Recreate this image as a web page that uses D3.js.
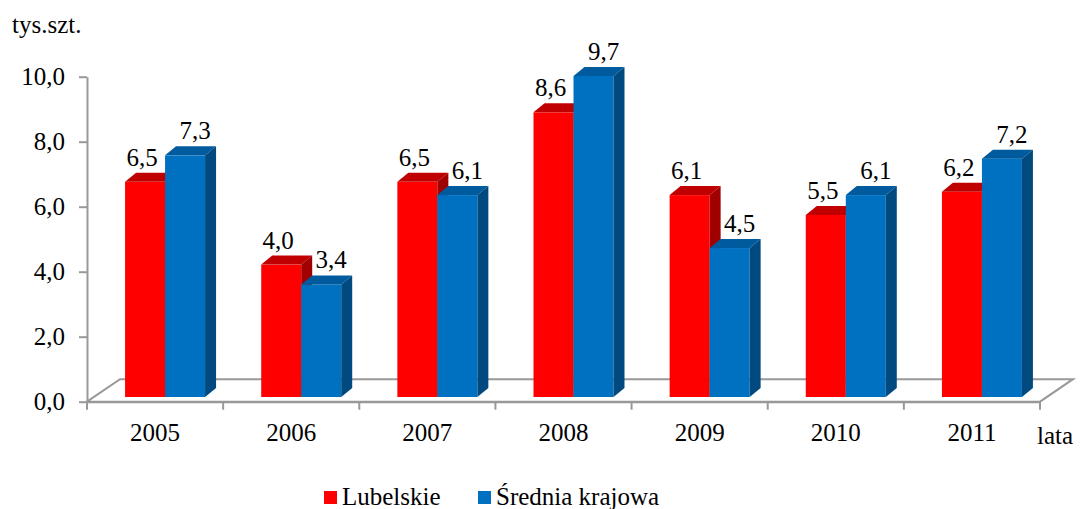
<!DOCTYPE html>
<html lang="pl">
<head>
  <meta charset="UTF-8">
  <title>Lubelskie - srednia krajowa</title>
  <script src="https://cdn.jsdelivr.net/npm/d3@7"></script>
  <style>
    body { margin: 0; background: #fff; font-family: 'Liberation Serif', serif; }
    #warm { position: absolute; left: -200px; top: 0; font-family: 'Liberation Serif'; font-size: 25px; }
  </style>
</head>
<body>
  <svg width="1080" height="509"></svg>
  <span id="warm">&nbsp;</span>
  <script>
    var years = ["2005", "2006", "2007", "2008", "2009", "2010", "2011"];
    var lubelskie = [6.5, 4.0, 6.5, 8.6, 6.1, 5.5, 6.2];
    var srednia = [7.3, 3.4, 6.1, 9.7, 4.5, 6.1, 7.2];
    var yTicks = [0, 2, 4, 6, 8, 10];

    var svg = d3.select("svg");
    var TXT = "font-family: 'Liberation Serif' !important; font-size: 25px !important; fill: #000;";
    var fmt = function (v) { return d3.format(".1f")(v).replace(".", ","); };

    var x = d3.scaleBand().domain(years).range([87, 1040]);
    var y = d3.scaleLinear().domain([0, 10]).range([401.7, 76.7]);
    // bars sit a bit deeper in the floor, so they have their own scale
    var yBar = d3.scaleLinear().domain([0, 10]).range([397, 66]);

    var floorDx = 33, floorDy = -22.5;
    var barW = 40, dX = 11, dY = -9, shift = 10;

    // floor
    var x0 = x.range()[0], x1 = x.range()[1], yf = y(0);
    svg.append("path")
      .attr("d", "M" + x0 + "," + yf + "L" + (x0 + floorDx) + "," + (yf + floorDy) +
        "L" + (x1 + floorDx) + "," + (yf + floorDy) + "L" + x1 + "," + yf + "Z")
      .attr("fill", "none")
      .attr("stroke", "#999")
      .attr("stroke-width", 2);

    // y axis
    var yAxis = svg.append("g")
      .attr("transform", "translate(" + x0 + ",0)")
      .call(d3.axisLeft(y).tickValues(yTicks).tickFormat(fmt).tickSize(8).tickSizeOuter(0))
      .attr("font-family", null);
    yAxis.select(".domain").attr("stroke", "#999").attr("stroke-width", 2);
    yAxis.selectAll(".tick line").attr("stroke", "#999").attr("stroke-width", 2);
    yAxis.selectAll(".tick text").attr("x", -22).attr("style", TXT);

    // x axis
    var xAxis = svg.append("g")
      .attr("transform", "translate(0," + yf + ")")
      .call(d3.axisBottom(x).tickSize(0).tickSizeOuter(0))
      .attr("font-family", null);
    xAxis.select(".domain").attr("stroke", "#999").attr("stroke-width", 2);
    xAxis.selectAll(".tick text").attr("y", 22).attr("style", TXT);
    var bounds = years.map(function (d) { return x(d); }).concat([x1]);
    svg.selectAll(".xtick")
      .data(bounds)
      .enter()
      .append("line")
      .attr("x1", function (d) { return d; })
      .attr("x2", function (d) { return d; })
      .attr("y1", yf)
      .attr("y2", yf + 8)
      .attr("stroke", "#999")
      .attr("stroke-width", 2);

    // 3D bars
    var series = [
      { values: lubelskie, front: "#ff0000", top: "#c00000", side: "#a00000", off: -barW, lab: -3 },
      { values: srednia, front: "#0070c0", top: "#005a9e", side: "#004a80", off: 0, lab: 10 }
    ];

    years.forEach(function (yr, i) {
      var cx = x(yr) + x.bandwidth() / 2 + shift;
      series.forEach(function (s) {
        var v = s.values[i];
        var l = cx + s.off, r = l + barW, t = yBar(v), b = yBar(0);
        var g = svg.append("g");
        g.append("rect")
          .attr("x", l).attr("y", t)
          .attr("width", barW).attr("height", b - t)
          .attr("fill", s.front);
        g.append("path")
          .attr("d", "M" + l + "," + t + "L" + (l + dX) + "," + (t + dY) + "L" + (r + dX) + "," + (t + dY) + "L" + r + "," + t + "Z")
          .attr("fill", s.top);
        g.append("path")
          .attr("d", "M" + r + "," + t + "L" + (r + dX) + "," + (t + dY) + "L" + (r + dX) + "," + (b + dY) + "L" + r + "," + b + "Z")
          .attr("fill", s.side);
        svg.append("text")
          .attr("x", l + barW / 2 + s.lab)
          .attr("y", t - 16)
          .attr("text-anchor", "middle")
          .attr("style", TXT)
          .text(fmt(v));
      });
    });

    // unit and axis titles
    svg.append("text").attr("x", 12).attr("y", 33).attr("style", TXT).text("tys.szt.");
    svg.append("text").attr("x", 1037).attr("y", 444).attr("style", TXT).text("lata");

    // legend
    var legend = [
      { name: "Lubelskie", color: "#ff0000", x: 324 },
      { name: "Średnia krajowa", color: "#0070c0", x: 478 }
    ];
    var lg = svg.selectAll(".legend")
      .data(legend)
      .enter()
      .append("g")
      .attr("transform", function (d) { return "translate(" + d.x + ",491)"; });
    lg.append("rect").attr("width", 13).attr("height", 13).attr("fill", function (d) { return d.color; });
    lg.append("text").attr("x", 18).attr("y", 14).attr("style", TXT).text(function (d) { return d.name; });
  </script>
</body>
</html>
